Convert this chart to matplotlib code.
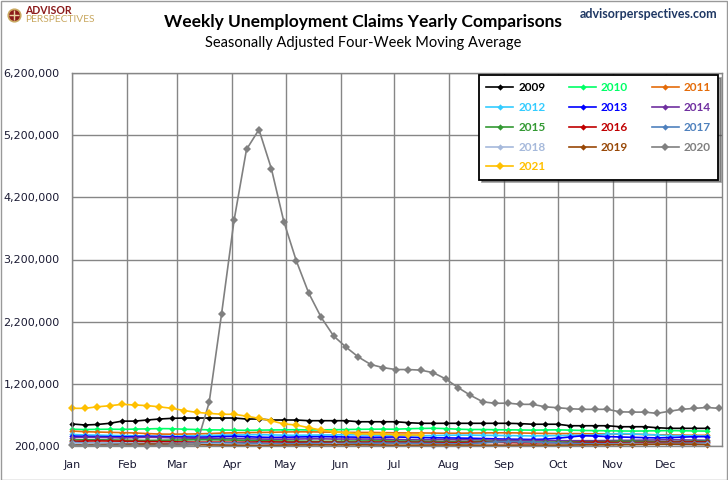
import numpy as np
import matplotlib.pyplot as plt
from matplotlib.lines import Line2D
from matplotlib.patches import Rectangle

# Weekly 4-week moving average of initial claims, in thousands
y2009 = [554, 538, 546, 565, 600, 600, 618, 634, 645, 650, 650, 650, 650, 650, 634, 634, 618, 618,
         618, 607, 607, 607, 607, 590, 590, 590, 590, 575, 565, 565, 565, 565, 565, 565, 565, 565,
         560, 550, 550, 550, 526, 526, 526, 526, 510, 510, 510, 494, 484, 484, 484, 484]
y2010 = [470, 465, 468, 470, 468, 472, 475, 480, 478, 470, 465, 460, 458, 455, 452, 455, 458, 460,
         462, 458, 460, 462, 465, 468, 470, 472, 470, 478, 482, 485, 480, 470, 465, 465, 462, 460,
         458, 455, 458, 460, 455, 450, 448, 445, 442, 440, 442, 445, 448, 445, 442, 440]
y2011 = [440, 430, 425, 420, 415, 410, 400, 392, 390, 392, 395, 400, 408, 412, 415, 418, 420, 425,
         428, 428, 425, 422, 420, 418, 418, 415, 412, 410, 410, 408, 405, 405, 408, 410, 412, 412,
         410, 405, 402, 400, 400, 398, 395, 395, 392, 390, 385, 380, 378, 375, 372, 372]
y2012 = [385, 378, 375, 370, 368, 365, 360, 358, 355, 360, 365, 370, 375, 378, 380, 382, 378, 375,
         372, 375, 378, 378, 380, 378, 375, 372, 370, 368, 365, 368, 372, 375, 375, 372, 370, 368,
         365, 362, 365, 368, 370, 372, 375, 390, 400, 395, 385, 375, 368, 365, 362, 360]
y2013 = [360, 355, 352, 350, 348, 352, 355, 352, 348, 345, 342, 345, 352, 355, 350, 342, 338, 340,
         345, 348, 350, 348, 345, 342, 340, 342, 345, 340, 335, 332, 330, 328, 325, 320, 315, 310,
         308, 305, 310, 325, 345, 365, 360, 352, 345, 340, 335, 330, 335, 342, 350, 350]
y2014 = [335, 340, 338, 335, 330, 335, 340, 338, 332, 328, 325, 322, 320, 318, 315, 312, 310, 310,
         312, 315, 315, 312, 312, 312, 312, 310, 305, 300, 298, 300, 302, 300, 300, 298, 295, 292,
         290, 288, 288, 285, 285, 285, 285, 288, 290, 292, 295, 298, 300, 298, 295, 292]
y2015 = [298, 300, 300, 298, 295, 292, 290, 292, 295, 298, 300, 300, 298, 295, 290, 285, 282, 280,
         278, 276, 275, 275, 278, 280, 282, 282, 280, 278, 275, 272, 272, 270, 272, 275, 272, 270,
         268, 265, 262, 262, 265, 268, 270, 272, 275, 275, 272, 270, 270, 272, 275, 278]
y2016 = [275, 280, 282, 280, 278, 275, 272, 270, 268, 265, 262, 262, 262, 260, 262, 265, 265, 262,
         260, 262, 262, 260, 258, 260, 262, 262, 262, 260, 258, 256, 255, 255, 258, 260, 258, 255,
         252, 250, 252, 252, 255, 258, 260, 258, 255, 255, 256, 258, 260, 262, 265, 263]
y2017 = [258, 248, 245, 245, 244, 242, 240, 240, 242, 245, 248, 250, 250, 248, 245, 242, 240, 240,
         240, 242, 242, 242, 244, 245, 245, 246, 245, 244, 242, 240, 238, 236, 240, 250, 262, 270,
         268, 262, 255, 250, 245, 240, 238, 238, 240, 242, 240, 242, 244, 245, 245, 248]
y2018 = [245, 240, 235, 228, 225, 224, 222, 222, 225, 228, 228, 226, 225, 222, 220, 218, 216, 215,
         218, 220, 222, 225, 222, 218, 215, 212, 210, 210, 210, 208, 208, 208, 210, 212, 214, 214,
         212, 212, 210, 212, 215, 218, 220, 222, 225, 228, 230, 228, 225, 222, 225, 228]
y2019 = [218, 220, 222, 222, 225, 228, 232, 230, 228, 225, 222, 218, 215, 212, 210, 208, 212, 215,
         218, 218, 218, 218, 220, 220, 218, 215, 212, 212, 214, 215, 216, 215, 214, 212, 212, 212,
         215, 215, 214, 214, 215, 218, 220, 220, 222, 224, 226, 228, 230, 228, 225, 222]
y2020 = [212, 212, 210, 212, 210, 210, 205, 210, 213, 215, 225, 902, 2330, 3830, 4970, 5290, 4660,
         3810, 3180, 2660, 2270, 1970, 1790, 1630, 1510, 1460, 1430, 1430, 1420, 1380, 1280, 1140,
         1015, 910, 886, 890, 870, 870, 830, 816, 800, 790, 790, 790, 750, 745, 745, 725, 760, 790,
         805, 820, 805]
y2021 = [806, 806, 830, 848, 870, 860, 850, 830, 806, 770, 740, 725, 710, 710, 680, 645, 607, 554,
         538, 494, 457, 430, 414, 395, 393, 393, 380, 378, 378]

years = ['2009', '2010', '2011', '2012', '2013', '2014', '2015', '2016', '2017', '2018', '2019',
         '2020', '2021']
series = [y2009, y2010, y2011, y2012, y2013, y2014, y2015, y2016, y2017, y2018, y2019, y2020, y2021]
colors = ['#000000', '#00FF66', '#E46C0A', '#33CCFF', '#0000FF', '#7030A0', '#339933', '#C00000',
          '#4F81BD', '#A6B9DB', '#984807', '#808080', '#FFC000']

months = ['Jan', 'Feb', 'Mar', 'Apr', 'May', 'Jun', 'Jul', 'Aug', 'Sep', 'Oct', 'Nov', 'Dec']
month_start = [0, 31, 59, 90, 120, 151, 181, 212, 243, 273, 304, 334]
yticks = np.arange(200000, 6200001, 1000000)

W, H = 728, 480
fig = plt.figure(figsize=(W / 100, H / 100), dpi=100)
ax = fig.add_axes([72.3 / W, (H - 446) / H, (722 - 72.3) / W, (446 - 73) / H])

grid_c = '#868686'
handles = {}
for yr, vals, c in zip(years, series, colors):
    days = np.arange(len(vals)) * 7
    big = yr in ('2020', '2021')
    ln, = ax.plot(days, np.array(vals) * 1000, color=c, lw=1.2, marker='D',
                  markersize=4.5 if big else 3.2, markeredgewidth=0, label=yr, clip_on=False)
    handles[yr] = ln

ax.set_xlim(0, 365.5)
ax.set_ylim(200000, 6200000)
ax.set_xticks(month_start)
ax.set_xticklabels(months)
ax.set_yticks(yticks)
ax.set_yticklabels([f'{v:,}' for v in yticks])
ax.tick_params(length=0, labelsize=8, labelcolor='#1a1a33')
ax.tick_params(axis='x', pad=10)
ax.tick_params(axis='y', pad=9)
ax.grid(True, color=grid_c, lw=1.0)
ax.set_axisbelow(True)
for sp in ax.spines.values():
    sp.set_color(grid_c)
    sp.set_linewidth(1.0)

# legend laid out row by row like the original
order = ['2009', '2012', '2015', '2018', '2021', '2010', '2013', '2016', '2019',
         '2011', '2014', '2017', '2020']
leg = fig.legend([handles[k] for k in order], order, loc='upper right',
                 bbox_to_anchor=(718 / W, 1 - 75 / H), bbox_transform=fig.transFigure,
                 ncol=3, frameon=True, fancybox=False, shadow=True, borderaxespad=0,
                 prop={'family': 'Lato', 'weight': 'bold', 'size': 8.5},
                 labelcolor='linecolor', handlelength=2.3, handletextpad=0.4,
                 columnspacing=2.0, labelspacing=0.75, borderpad=0.6)
leg.get_frame().set_edgecolor('black')
leg.get_frame().set_linewidth(1.3)

# titles
fig.text(363 / W, 1 - 22 / H, 'Weekly Unemployment Claims Yearly Comparisons', ha='center',
         va='center', family='Lato', weight='bold', fontsize=12.5, color='black')
fig.text(363 / W, 1 - 43 / H, 'Seasonally Adjusted Four-Week Moving Average', ha='center',
         va='center', family='Lato', fontsize=10.5, color='black')
fig.text(717 / W, 1 - 14 / H, 'advisorperspectives.com', ha='right', va='center',
         family='Lato', weight='bold', fontsize=9, color='#1F3864')

# logo
fig.add_artist(Line2D([14 / W], [1 - 15 / H], marker='o', markersize=9, color='#8B1A1A',
                      markeredgecolor='#C9A860', markeredgewidth=1.2))
fig.add_artist(Line2D([14 / W], [1 - 15 / H], marker='+', markersize=7, color='#E8D3A0',
                      markeredgewidth=1.0))
fig.text(25 / W, 1 - 11 / H, 'ADVISOR', ha='left', va='center', family='Lato', weight='bold',
         fontsize=7.6, color='#8B1A1A')
fig.text(25 / W, 1 - 20 / H, 'PERSPECTIVES', ha='left', va='center', family='Lato',
         fontsize=7.4, color='#C9A860')

# outer frame
fig.add_artist(Rectangle((0.5 / W, 0.5 / H), 1 - 1.5 / W, 1 - 1.5 / H, transform=fig.transFigure,
                         fill=False, edgecolor='#999999', lw=1.0))

fig.savefig('out.png', dpi=100)
